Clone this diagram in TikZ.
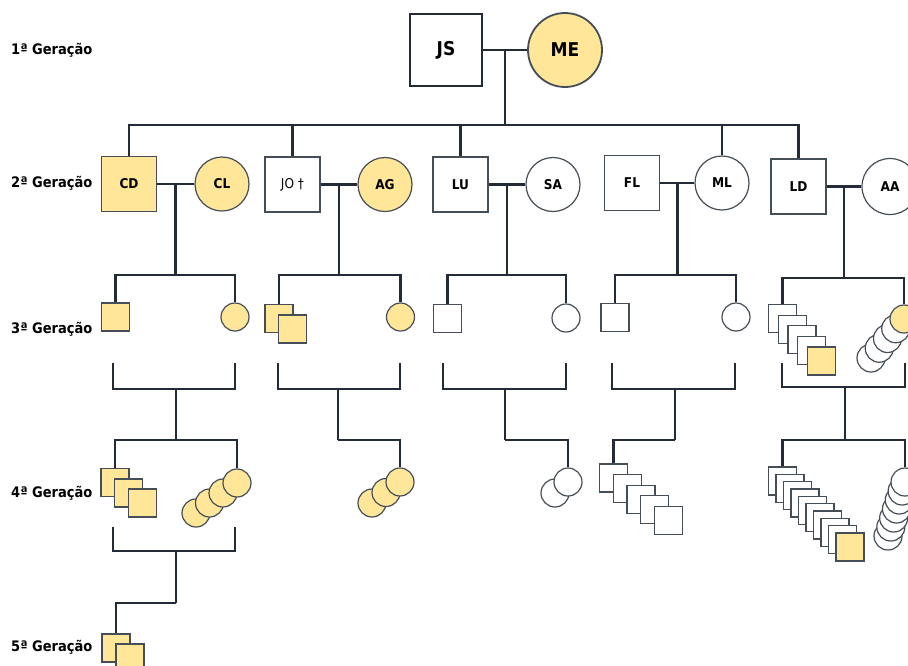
\documentclass[tikz,border=0pt]{standalone}
\usepackage{fontspec}
\IfFontExistsTF{DejaVu Sans Condensed}{\setmainfont{DejaVu Sans Condensed}}{\setmainfont{DejaVu Sans}}
\usetikzlibrary{calc,backgrounds}
\definecolor{fillY}{HTML}{FFE699}
\definecolor{lineC}{HTML}{222B36}
\definecolor{edgeC}{HTML}{454D57}
\begin{document}
\begin{tikzpicture}[x=1pt,y=-1pt,
  conn/.style={draw=lineC,line width=2.6pt},
  bigsq/.style={draw=lineC,line width=2pt,rectangle,minimum size=72pt,inner sep=0pt,fill=white,font=\bfseries\fontsize{19}{19}\selectfont},
  bigci/.style={draw=edgeC,line width=1.8pt,circle,minimum size=74pt,inner sep=0pt,fill=white,font=\bfseries\fontsize{19}{19}\selectfont},
  midsq/.style={draw=edgeC,line width=1.2pt,rectangle,minimum size=55pt,inner sep=0pt,fill=white,font=\bfseries\fontsize{13.5}{13.5}\selectfont},
  midci/.style={draw=edgeC,line width=1.2pt,circle,minimum size=54pt,inner sep=0pt,fill=white,font=\bfseries\fontsize{13.5}{13.5}\selectfont},
  male/.style={draw=edgeC,line width=1.2pt,rectangle,minimum size=28pt,inner sep=0pt,fill=white},
  fem/.style={draw=edgeC,line width=1.2pt,circle,minimum size=28pt,inner sep=0pt,fill=white},
  aff/.style={fill=fillY},
  genlab/.style={anchor=west,inner sep=0pt,font=\bfseries\fontsize{14.5}{14.5}\selectfont}]
\clip (0,0) rectangle (908,665);

% generation labels
\node[genlab] (g1) at (11,50) {1ª Geração};
\node[genlab] (g2) at (11,183) {2ª Geração};
\node[genlab] (g3) at (11,329) {3ª Geração};
\node[genlab] (g4) at (11,493) {4ª Geração};
\node[genlab] (g5) at (11,647) {5ª Geração};

% helper y levels
\coordinate (y125) at (0,125);
\coordinate (y275) at (0,275);
\coordinate (y278) at (0,278);

% generation 1
\node[bigsq] (js) at (446,50) {JS};
\node[bigci,aff] (me) at (565,50) {ME};

% generation 2
\node[midsq,aff] (cd) at (129,184) {CD};
\node[midci,aff] (cl) at (222,184) {CL};
\node[midsq,font=\fontsize{13.5}{13.5}\selectfont] (jo) at (292.5,184.5) {JO †};
\node[midci,aff] (ag) at (385,184.5) {AG};
\node[midsq] (lu) at (460.5,184.5) {LU};
\node[midci] (sa) at (553,184.5) {SA};
\node[midsq] (fl) at (632,183) {FL};
\node[midci] (ml) at (722,183) {ML};
\node[midsq] (ld) at (798.5,186.5) {LD};
\node[midci,minimum size=56pt] (aa) at (890,186.5) {AA};

% generation 3
\node[male,aff] (c1m) at (115.5,317) {};
\node[fem,aff] (c1f) at (235,317) {};
\node[male,aff] (c2m1) at (279,318.5) {};
\node[male,aff] (c2m2) at (292.5,329) {};
\node[fem,aff] (c2f) at (400.5,317) {};
\node[male] (c3m) at (447.5,318.5) {};
\node[fem] (c3f) at (566,318) {};
\node[male] (c4m) at (615,317.5) {};
\node[fem] (c4f) at (736,317) {};
\foreach \i in {1,...,4} {\node[male] (c5m\i) at ({782.5+9.75*(\i-1)},{318.5+10.6*(\i-1)}) {};}
\node[male,aff] (c5m5) at (821.5,361) {};
\foreach \i in {1,...,4} {\node[fem] (c5f\i) at ({871+8.25*(\i-1)},{358-9.75*(\i-1)}) {};}
\node[fem,aff] (c5f5) at (904,319) {};

% generation 4
\node[male,aff] (d1m1) at (115,482.5) {};
\node[male,aff] (d1m2) at (128.5,493) {};
\node[male,aff] (d1m3) at (142.5,503) {};
\node[fem,aff] (d1f1) at (196,513) {};
\node[fem,aff] (d1f2) at (209.5,503) {};
\node[fem,aff] (d1f3) at (223,493) {};
\node[fem,aff] (d1f4) at (237,483) {};
\node[fem,aff] (d2f1) at (372,503) {};
\node[fem,aff] (d2f2) at (386,492.5) {};
\node[fem,aff] (d2f3) at (400,482) {};
\node[fem] (d3f1) at (555,493) {};
\node[fem] (d3f2) at (568,482) {};
\foreach \i in {1,...,5} {\node[male] (d4m\i) at ({613.5+13.7*(\i-1)},{478+10.6*(\i-1)}) {};}
\foreach \i in {1,...,9} {\node[male] (d5m\i) at ({782.5+7.5*(\i-1)},{481+7.33*(\i-1)}) {};}
\node[male,aff] (d5m10) at (850,547) {};
\foreach \i in {1,...,6} {\node[fem] (d5f\i) at ({888+2.83*(\i-1)},{536-9*(\i-1)}) {};}
\node[fem] (d5f7) at (905,482) {};

% generation 5
\node[male,aff] (e1m1) at (116,648) {};
\node[male,aff] (e1m2) at (130,658) {};

% bracket coordinates
\coordinate (b1l) at (113,363); \coordinate (b1r) at (235,363); \coordinate (k1a) at (176,389); \coordinate (k1b) at (176,440);
\coordinate (b2l) at (278,363); \coordinate (b2r) at (400,363); \coordinate (k2a) at (338,389); \coordinate (k2b) at (338,440);
\coordinate (b3l) at (443,363); \coordinate (b3r) at (566,363); \coordinate (k3a) at (505,389); \coordinate (k3b) at (505,440);
\coordinate (b4l) at (612,363); \coordinate (b4r) at (735,363); \coordinate (k4a) at (675,389); \coordinate (k4b) at (675,440);
\coordinate (b5l) at (782,363); \coordinate (b5r) at (905,363); \coordinate (k5a) at (845,387); \coordinate (k5b) at (845,440);
\coordinate (b6l) at (113,527); \coordinate (b6r) at (235,527); \coordinate (k6a) at (176,551); \coordinate (k6b) at (176,603);

\begin{scope}[on background layer]
  % generation 1 to 2
  \coordinate (m0) at ($(js.east)!0.5!(me.west)$);
  \draw[conn] (js.east) -- (me.west);
  \draw[conn] (m0) -- (m0 |- y125);
  \draw[conn] (cd.north) |- (m0 |- y125) -| (ld.north);
  \draw[conn] (jo.north) -- (jo.north |- y125);
  \draw[conn] (lu.north) -- (lu.north |- y125);
  \draw[conn] (ml.north) -- (ml.north |- y125);
  % couples of generation 2
  \coordinate (m1) at ($(cd.east)!0.5!(cl.west)$);
  \coordinate (m2) at ($(jo.east)!0.5!(ag.west)$);
  \coordinate (m3) at ($(lu.east)!0.5!(sa.west)$);
  \coordinate (m4) at ($(fl.east)!0.5!(ml.west)$);
  \coordinate (m5) at ($(ld.east)!0.5!(aa.west)$);
  \draw[conn] (cd.east) -- (cl.west);
  \draw[conn] (jo.east) -- (ag.west);
  \draw[conn] (lu.east) -- (sa.west);
  \draw[conn] (fl.east) -- (ml.west);
  \draw[conn] (ld.east) -- (aa.west);
  \draw[conn] (m1) -- (m1 |- y275);
  \draw[conn] (m2) -- (m2 |- y275);
  \draw[conn] (m3) -- (m3 |- y275);
  \draw[conn] (m4) -- (m4 |- y275);
  \draw[conn] (m5) -- (m5 |- y278);
  % generation 3 sibling bars
  \draw[conn] (c1m.north) |- (m1 |- y275) -| (c1f.north);
  \draw[conn] (c2m1.north) |- (m2 |- y275) -| (c2f.north);
  \draw[conn] (c3m.north) |- (m3 |- y275) -| (c3f.north);
  \draw[conn] (c4m.north) |- (m4 |- y275) -| (c4f.north);
  \draw[conn] (c5m1.north) |- (m5 |- y278) -| (c5f5.north);
  % brackets below generation 3 and 4
  \foreach \k in {1,...,6} {
    \draw[conn] (b\k l) |- (k\k a) -| (b\k r);
    \draw[conn] (k\k a) -- (k\k b);
  }
  % generation 4 bars
  \draw[conn] (d1m1.north) |- (k1b) -| (d1f4.north);
  \draw[conn] (k2b) -| (d2f3.north);
  \draw[conn] (k3b) -| (d3f2.north);
  \draw[conn] (k4b) -| (d4m1.north);
  \draw[conn] (d5m1.north) |- (k5b) -| (d5f7.north);
  % generation 5
  \draw[conn] (k6b) -| (e1m1.north);
\end{scope}
\end{tikzpicture}
\end{document}
